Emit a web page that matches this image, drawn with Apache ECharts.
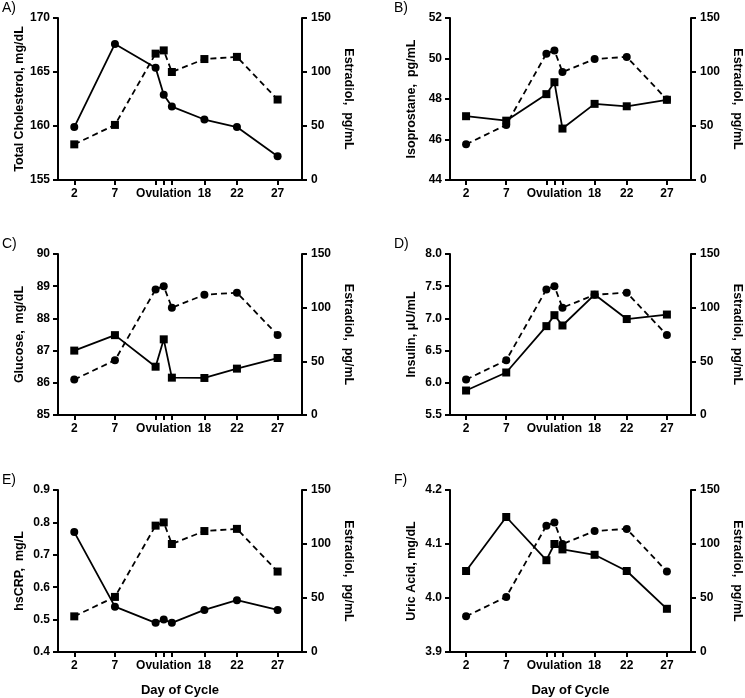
<!DOCTYPE html>
<html>
<head>
<meta charset="utf-8">
<script src="https://cdn.jsdelivr.net/npm/echarts@6/dist/echarts.min.js"></script>
<style>
html,body{margin:0;padding:0;background:#fff;}
#chart{width:745px;height:698px;}
</style>
</head>
<body>
<div id="chart"></div>
<script>
// ---- data ----
const days = [2, 7, 12, 13, 14, 18, 22, 27];
const dayTickLabels = {2: '2', 7: '7', 13: 'Ovulation', 18: '18', 22: '22', 27: '27'};
const estradiol = [33, 51, 117, 120, 100, 112, 114, 74.5];

const cholesterol = [159.9, 167.6, 165.4, 162.9, 161.8, 160.6, 159.9, 157.2];
const isoprostane = [47.15, 46.93, 48.24, 48.83, 46.54, 47.76, 47.64, 47.96];
const glucose = [87.0, 87.48, 86.5, 87.35, 86.16, 86.15, 86.44, 86.77];
const insulin = [5.88, 6.16, 6.88, 7.05, 6.89, 7.37, 6.99, 7.06];
const hscrp = [0.77, 0.54, 0.49, 0.50, 0.49, 0.53, 0.56, 0.53];
const uricAcid = [4.05, 4.15, 4.07, 4.10, 4.09, 4.08, 4.05, 3.98];

const panelLetters = ['A)', 'B)', 'C)', 'D)', 'E)', 'F)'];
const leftNames = ['Total Cholesterol, mg/dL', 'Isoprostane,  pg/mL', 'Glucose,  mg/dL',
                   'Insulin, \u03bcU/mL', 'hsCRP,  mg/L', 'Uric Acid, mg/dL'];
const rightName = 'Estradiol,  pg/mL';
const xName = 'Day of Cycle';
const leftRanges = [[155, 170, 5], [44, 52, 2], [85, 90, 1], [5.5, 8.0, 0.5], [0.4, 0.9, 0.1], [3.9, 4.2, 0.1]];
const leftDecimals = [0, 0, 0, 1, 1, 1];
const rightRange = [0, 150, 50];
const bioSeries = [cholesterol, isoprostane, glucose, insulin, hscrp, uricAcid];
const bioSymbols = ['circle', 'rect', 'rect', 'rect', 'circle', 'rect'];

// ---- layout ----
const grids = [
  {left: 58, top: 18, width: 244, height: 162},
  {left: 450, top: 18, width: 243, height: 162},
  {left: 58, top: 254, width: 244, height: 161},
  {left: 450, top: 254, width: 243, height: 161},
  {left: 58, top: 490, width: 244, height: 162},
  {left: 450, top: 490, width: 243, height: 162}
];
const FONT = "'Liberation Sans', Arial, sans-serif";
const axisLine = {show: true, onZero: false, lineStyle: {color: '#000', width: 2}};
const axisTick = {show: true, length: 5, inside: false, lineStyle: {color: '#000', width: 2}};

const xAxes = [], yAxes = [], series = [], titles = [];
grids.forEach((g, i) => {
  titles.push({
    text: panelLetters[i], left: g.left - 56, top: g.top - 17, padding: 0,
    textStyle: {fontFamily: FONT, fontSize: 14, fontWeight: 'normal', color: '#000'}
  });
  xAxes.push({
    gridIndex: i, type: 'value', min: 0, max: 30,
    axisLine: axisLine,
    axisTick: Object.assign({}, axisTick, {customValues: days}),
    axisLabel: {
      customValues: Object.keys(dayTickLabels).map(Number),
      formatter: v => dayTickLabels[v] || '',
      margin: 8, color: '#000', fontFamily: FONT, fontSize: 12, fontWeight: 'bold'
    },
    splitLine: {show: false},
    name: i >= 4 ? xName : '', nameLocation: 'middle', nameGap: 32,
    nameTextStyle: {color: '#000', fontFamily: FONT, fontSize: 13, fontWeight: 'bold'}
  });
  const r = leftRanges[i];
  yAxes.push({
    gridIndex: i, type: 'value', position: 'left',
    min: r[0], max: r[1], interval: r[2],
    axisLine: axisLine, axisTick: axisTick, splitLine: {show: false},
    axisLabel: {
      margin: 8, color: '#000', fontFamily: FONT, fontSize: 12, fontWeight: 'bold',
      formatter: v => Number(v).toFixed(leftDecimals[i])
    },
    name: leftNames[i], nameLocation: 'middle', nameRotate: 90, nameGap: 32,
    nameTextStyle: {color: '#000', fontFamily: FONT, fontSize: 12.5, fontWeight: 'bold'}
  });
  yAxes.push({
    gridIndex: i, type: 'value', position: 'right',
    min: rightRange[0], max: rightRange[1], interval: rightRange[2],
    axisLine: axisLine, axisTick: axisTick, splitLine: {show: false},
    axisLabel: {margin: 9, color: '#000', fontFamily: FONT, fontSize: 12, fontWeight: 'bold'},
    name: rightName, nameLocation: 'middle', nameRotate: -90, nameGap: 40,
    nameTextStyle: {color: '#000', fontFamily: FONT, fontSize: 12.5, fontWeight: 'bold'}
  });
  const bioSym = bioSymbols[i];
  const e2Sym = bioSym === 'circle' ? 'rect' : 'circle';
  series.push({
    type: 'line', xAxisIndex: i, yAxisIndex: 2 * i,
    data: days.map((d, k) => [d, bioSeries[i][k]]),
    symbol: bioSym, symbolSize: 8,
    lineStyle: {color: '#000', width: 1.8, type: 'solid'},
    itemStyle: {color: '#000'}, animation: false, z: 3
  });
  series.push({
    type: 'line', xAxisIndex: i, yAxisIndex: 2 * i + 1,
    data: days.map((d, k) => [d, estradiol[k]]),
    symbol: e2Sym, symbolSize: 8,
    lineStyle: {color: '#000', width: 1.8, type: [6, 4]},
    itemStyle: {color: '#000'}, animation: false, z: 2
  });
});

const chart = echarts.init(document.getElementById('chart'), null, {renderer: 'canvas'});
chart.setOption({
  backgroundColor: '#fff',
  animation: false,
  title: titles,
  grid: grids,
  xAxis: xAxes,
  yAxis: yAxes,
  series: series
});
</script>
</body>
</html>
